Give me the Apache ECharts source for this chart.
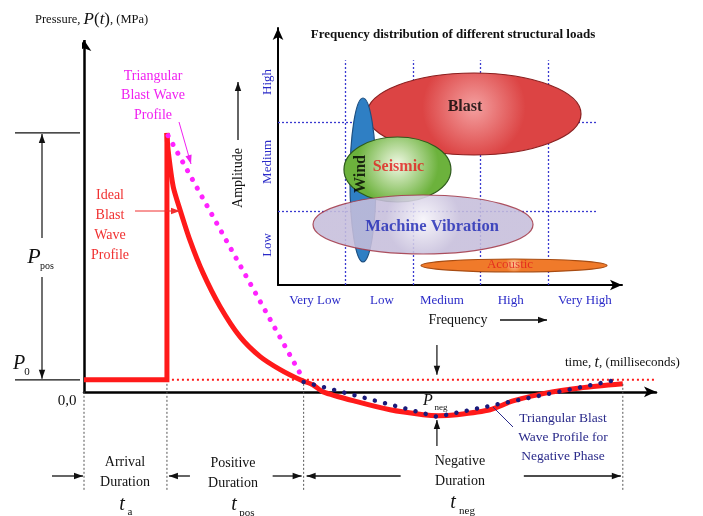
<!DOCTYPE html>
<html>
<head>
<meta charset="utf-8">
<script src="https://cdn.jsdelivr.net/npm/echarts@6/dist/echarts.min.js"></script>
<style>
  html, body { margin: 0; background: #fff; }
  #chart { width: 703px; height: 516px; }
</style>
</head>
<body>
<div id="chart"></div>
<script>
// ---------- main plot: schematic time (ms) vs pressure ----------
const onsetTime = [0, 14.5, 14.5];
const onsetPressure = [3.4, 3.4, 73.6];
const idealTime = [14.5, 14.7, 15.6, 16.8, 18.5, 20.8, 23.8, 27.3, 30.8, 34.3, 37.8, 40.0, 41.8,
  47.7, 53.5, 59.3, 61.9, 65.2, 71.0, 75.0, 80.9, 86.7, 94.2];
const idealPressure = [73.6, 68.8, 58.3, 51.7, 43.2, 33.8, 24.2, 15.6, 10.0, 6.3, 3.4, 2.0, 0,
  -2.8, -5.1, -6.5, -6.8, -6.5, -5.1, -2.6, -0.3, 1.1, 2.3];
const triPosTime = [14.7, 38.4];
const triPosPressure = [72.8, 3.4];
const triNegTime = [38.4, 61.7, 93.7];
const triNegPressure = [2.8, -7.1, 3.6];
const ambientPressure = 3.4;
const ambientEnd = 99.8;
const peakPressure = 73.6;
const phaseTimes = [0, 14.5, 38.4, 94.2]; // start, arrival, end of positive, end of negative
const minTime = 61.7;
const minPressure = -6.9;

// ---------- inset: frequency distribution of structural loads ----------
const freqLabels = ['Very Low', 'Low', 'Medium', 'High', 'Very High'];
const freqLabelPos = [0.55, 1.54, 2.43, 3.45, 4.55];
const ampLabels = ['Low', 'Medium', 'High'];
const ampLabelPos = [1.56, 4.79, 7.9];
const freqBounds = [1, 2, 3, 4];
const ampBounds = [2.88, 6.34];
const loadNames = ['Blast', 'Wind', 'Seismic', 'Machine Vibration', 'Acoustic'];
const loadFreq = [2.906, 1.26, 1.771, 2.15, 3.499];
const loadAmp = [6.654, 4.086, 4.494, 2.354, 0.759];
const loadFreqSpread = [1.586, 0.193, 0.793, 1.631, 1.379];
const loadAmpSpread = [1.595, 3.19, 1.265, 1.148, 0.253];
const loadLabelFreq = [2.772, 1.23, 1.785, 2.283, 3.44];
const loadLabelAmp = [6.93, 4.32, 4.59, 2.257, 0.78];

const SERIF = '"Liberation Serif", "DejaVu Serif", serif';
const RED = '#ff1a1a';

// ellipse look: inner colour, outer colour, border, opacity
const loadStyle = [
  {inner: '#f4a0a0', outer: '#dc4444', stroke: '#8a1f1f', opacity: 1},
  {inner: '#8cc4ee', outer: '#2f7fc4', stroke: '#1d4f80', opacity: 1},
  {inner: '#f0f8e4', outer: '#6cb23c', stroke: '#2e5a1c', opacity: 1},
  {inner: '#f6f4fa', outer: '#c6bedb', stroke: '#a33a4a', opacity: 0.88},
  {inner: '#fcc898', outer: '#f07a2a', stroke: '#a84c12', opacity: 1}
];
const loadLabelStyle = [
  {color: '#000', fontSize: 16, rotate: 0},
  {color: '#000', fontSize: 16, rotate: 90},
  {color: '#e21b1b', fontSize: 16, rotate: 0},
  {color: '#1b26b4', fontSize: 16.5, rotate: 0},
  {color: '#e21b1b', fontSize: 13, rotate: 0, fontWeight: 'normal'}
];

const zip = (a, b) => a.map((v, i) => [v, b[i]]);
const chart = echarts.init(document.getElementById('chart'));

const option = {
  backgroundColor: '#fff',
  animation: false,
  grid: [
    {left: 84, right: 47, top: 40, bottom: 89},
    {left: 278, right: 81, top: 28, bottom: 231}
  ],
  xAxis: [
    {
      type: 'value', gridIndex: 0, min: 0, max: 100,
      axisLine: {show: true, onZero: true, symbol: ['none', 'arrow'], symbolSize: [8, 12],
        lineStyle: {color: '#000', width: 2.5}},
      axisTick: {show: false}, axisLabel: {show: false}, splitLine: {show: false}
    },
    {
      type: 'value', gridIndex: 1, min: 0, max: 5.1,
      axisLine: {show: true, symbol: ['none', 'arrow'], symbolSize: [8, 12],
        lineStyle: {color: '#000', width: 2}},
      axisTick: {show: false}, splitLine: {show: false},
      axisLabel: {
        customValues: freqLabelPos, margin: 9, color: '#2b2bc8',
        fontFamily: SERIF, fontSize: 13,
        formatter: v => freqLabels[freqLabelPos.indexOf(v)]
      }
    }
  ],
  yAxis: [
    {
      type: 'value', gridIndex: 0, min: -10, max: 100,
      axisLine: {show: false}, axisTick: {show: false}, axisLabel: {show: false}, splitLine: {show: false}
    },
    {
      type: 'value', gridIndex: 1, min: 0, max: 10,
      axisLine: {show: true, symbol: ['none', 'arrow'], symbolSize: [8, 12],
        lineStyle: {color: '#000', width: 2}},
      axisTick: {show: false}, splitLine: {show: false},
      axisLabel: {
        customValues: ampLabelPos, rotate: 90, margin: 4, color: '#2b2bc8',
        fontFamily: SERIF, fontSize: 13,
        formatter: v => ampLabels[ampLabelPos.indexOf(v)]
      }
    }
  ],
  series: [
    // pressure axis of the main plot
    {
      type: 'lines', coordinateSystem: 'cartesian2d', xAxisIndex: 0, yAxisIndex: 0,
      symbol: ['none', 'arrow'], symbolSize: 11, silent: true,
      lineStyle: {color: '#000', width: 2.5, opacity: 1},
      data: [{coords: [[0, 0], [0, 100]]}]
    },
    // ambient level P0
    {
      type: 'line', xAxisIndex: 0, yAxisIndex: 0, symbol: 'none', silent: true, z: 2,
      lineStyle: {color: RED, width: 2, type: [2, 3]},
      data: [[onsetTime[1], ambientPressure], [ambientEnd, ambientPressure]]
    },
    // ideal blast wave: arrival step
    {
      type: 'line', xAxisIndex: 0, yAxisIndex: 0, symbol: 'none', silent: true, z: 3,
      lineStyle: {color: RED, width: 5, join: 'miter'},
      data: zip(onsetTime, onsetPressure)
    },
    // ideal blast wave: decay and negative phase
    {
      type: 'line', xAxisIndex: 0, yAxisIndex: 0, symbol: 'none', silent: true, z: 3, smooth: 0.25,
      lineStyle: {color: RED, width: 5},
      data: zip(idealTime, idealPressure)
    },
    // triangular approximation, positive phase
    {
      type: 'line', xAxisIndex: 0, yAxisIndex: 0, symbol: 'none', silent: true, z: 4,
      lineStyle: {color: '#ff22ff', width: 5, type: [0.01, 10], cap: 'round'},
      data: zip(triPosTime, triPosPressure)
    },
    // triangular approximation, negative phase
    {
      type: 'line', xAxisIndex: 0, yAxisIndex: 0, symbol: 'none', silent: true, z: 4,
      lineStyle: {color: '#1a1a7a', width: 4.5, type: [0.01, 10.5], cap: 'round'},
      data: zip(triNegTime, triNegPressure)
    },
    // inset dotted band limits
    {
      type: 'lines', coordinateSystem: 'cartesian2d', xAxisIndex: 1, yAxisIndex: 1, silent: true,
      lineStyle: {color: '#3a3ad0', width: 1.3, type: [2, 2], opacity: 1},
      data: freqBounds.map(f => ({coords: [[f, 0], [f, 8.75]]}))
        .concat(ampBounds.map(a => ({coords: [[0, a], [4.74, a]]})))
    },
    // load ellipses
    {
      type: 'custom', xAxisIndex: 1, yAxisIndex: 1, silent: true, z: 5,
      data: loadNames.map((n, i) => [loadFreq[i], loadAmp[i], loadFreqSpread[i], loadAmpSpread[i]]),
      renderItem: (params, api) => {
        const c = api.coord([api.value(0), api.value(1)]);
        const s = api.size([api.value(2), api.value(3)]);
        const st = loadStyle[params.dataIndex];
        return {
          type: 'ellipse',
          shape: {cx: c[0], cy: c[1], rx: s[0], ry: s[1]},
          style: {
            fill: new echarts.graphic.RadialGradient(0.5, 0.42, 0.62, [
              {offset: 0, color: st.inner}, {offset: 1, color: st.outer}
            ]),
            stroke: st.stroke, lineWidth: 1.2, opacity: st.opacity
          }
        };
      }
    },
    // load names
    {
      type: 'scatter', xAxisIndex: 1, yAxisIndex: 1, symbolSize: 0, silent: true, z: 6,
      data: loadNames.map((n, i) => ({
        name: n, value: [loadLabelFreq[i], loadLabelAmp[i]],
        label: {
          show: true, position: 'inside', formatter: '{b}', rotate: loadLabelStyle[i].rotate,
          color: loadLabelStyle[i].color, fontSize: loadLabelStyle[i].fontSize,
          fontWeight: loadLabelStyle[i].fontWeight || 'bold', fontFamily: SERIF
        }
      }))
    }
  ]
};
chart.setOption(option);

// ---------- annotations ----------
const P = (x, y) => chart.convertToPixel({gridIndex: 0}, [x, y]);
const g = [];
function text(x, y, t, o) {
  g.push({
    type: 'text', x: x, y: y, silent: true, z: 20, rotation: (o && o.rotation) || 0,
    style: Object.assign({
      text: t, fontFamily: SERIF, fontSize: 14, fill: '#111',
      align: 'center', verticalAlign: 'middle', textAlign: 'center', textVerticalAlign: 'middle'
    }, o || {})
  });
}
function line(x1, y1, x2, y2, color, w, dash) {
  g.push({type: 'line', silent: true, z: 20, shape: {x1, y1, x2, y2},
    style: {stroke: color, lineWidth: w, lineDash: dash || null}});
}
function arrow(x1, y1, x2, y2, color, w) {
  line(x1, y1, x2, y2, color, w);
  const a = Math.atan2(y2 - y1, x2 - x1), L = 9, H = 3.2;
  const bx = x2 - L * Math.cos(a), by = y2 - L * Math.sin(a);
  g.push({type: 'polygon', silent: true, z: 20, shape: {points: [
    [x2, y2], [bx + H * Math.sin(a), by - H * Math.cos(a)], [bx - H * Math.sin(a), by + H * Math.cos(a)]
  ]}, style: {fill: color}});
}

const yAxis0 = P(0, 0)[1];
const yP0 = P(0, ambientPressure)[1];
const yPeak = P(0, peakPressure)[1];
const bx = phaseTimes.map(t => P(t, 0)[0]);

// vertical guides at phase boundaries
bx.forEach((x, i) => line(x, i === 0 ? yAxis0 : yP0 + 4, x, 491, '#555', 1, [2, 2]));

// duration arrows
const yDur = 476;
arrow(bx[0] - 32, yDur, bx[0] - 1, yDur, '#111', 1.3);
arrow(bx[1] + 23, yDur, bx[1] + 2, yDur, '#111', 1.3);
arrow(bx[2] - 31, yDur, bx[2] - 2, yDur, '#111', 1.3);
arrow(bx[2] + 97, yDur, bx[2] + 3, yDur, '#111', 1.3);
arrow(bx[3] - 99, yDur, bx[3] - 2, yDur, '#111', 1.3);

// P_pos bracket
line(15, yPeak, 80, yPeak, '#111', 1.3);
line(15, yP0, 80, yP0, '#111', 1.3);
arrow(42, 238, 42, yPeak + 1, '#111', 1.2);
arrow(42, 277, 42, yP0 - 1, '#111', 1.2);

// P_neg arrows
const xm = P(minTime, 0)[0];
arrow(xm, 345, xm, yP0 - 5, '#111', 1.2);
arrow(xm, 446, xm, P(minTime, minPressure)[1] + 4, '#111', 1.2);

// axis titles
text(35, 20, '{a|Pressure, }{i|P}{b|(}{i|t}{b|)}{a|, (MPa)}', {align: 'left', textAlign: 'left', rich: {
  a: {fontFamily: SERIF, fontSize: 12.5, fill: '#111'},
  b: {fontFamily: SERIF, fontSize: 17, fill: '#111'},
  i: {fontFamily: SERIF, fontSize: 17, fontStyle: 'italic', fill: '#111'}
}});
text(565, 363, '{a|time, }{i|t}{a|, (milliseconds)}', {align: 'left', textAlign: 'left', rich: {
  a: {fontFamily: SERIF, fontSize: 13, fill: '#111'},
  i: {fontFamily: SERIF, fontSize: 16, fontStyle: 'italic', fill: '#111'}
}});
text(67, 401, '0,0', {fontSize: 15});

// symbols
text(34, 257, 'P', {fontSize: 22, fontStyle: 'italic'});
text(47, 266, 'pos', {fontSize: 10});
text(19, 364, 'P', {fontSize: 20, fontStyle: 'italic'});
text(27, 372, '0', {fontSize: 11});
text(428, 401, 'P', {fontSize: 16, fontStyle: 'italic'});
text(441, 408, 'neg', {fontSize: 9});

// duration labels
text(125, 462, 'Arrival'); text(125, 482, 'Duration');
text(122, 505, 't', {fontSize: 20, fontStyle: 'italic'}); text(130, 512, 'a', {fontSize: 11});
text(233, 463, 'Positive'); text(233, 483, 'Duration');
text(234, 505, 't', {fontSize: 20, fontStyle: 'italic'}); text(247, 513, 'pos', {fontSize: 11});
text(460, 461, 'Negative'); text(460, 481, 'Duration');
text(453, 503, 't', {fontSize: 20, fontStyle: 'italic'}); text(467, 511, 'neg', {fontSize: 11});

// profile call-outs
['Triangular', 'Blast Wave', 'Profile'].forEach((s, i) => text(153, 76 + i * 19.5, s, {fill: '#f020f0'}));
arrow(179, 122, 191, 164, '#f020f0', 1);
['Ideal', 'Blast', 'Wave', 'Profile'].forEach((s, i) => text(110, 195 + i * 20, s, {fill: '#f03030'}));
arrow(135, 211, 180, 211, '#f03030', 1);
['Triangular Blast', 'Wave Profile for', 'Negative Phase'].forEach((s, i) => text(563, 418 + i * 19, s, {fill: '#2a2a8a', fontSize: 13.5}));
line(513, 427, 493, 407, '#2a2a8a', 1);

// inset titles
text(453, 35, 'Frequency distribution of different structural loads', {fontSize: 13, fontWeight: 'bold'});
text(458, 320, 'Frequency');
arrow(500, 320, 547, 320, '#111', 1.3);
text(238, 178, 'Amplitude', {rotation: Math.PI / 2});
arrow(238, 140, 238, 82, '#111', 1.3);

chart.setOption({graphic: {elements: g}});
</script>
</body>
</html>
